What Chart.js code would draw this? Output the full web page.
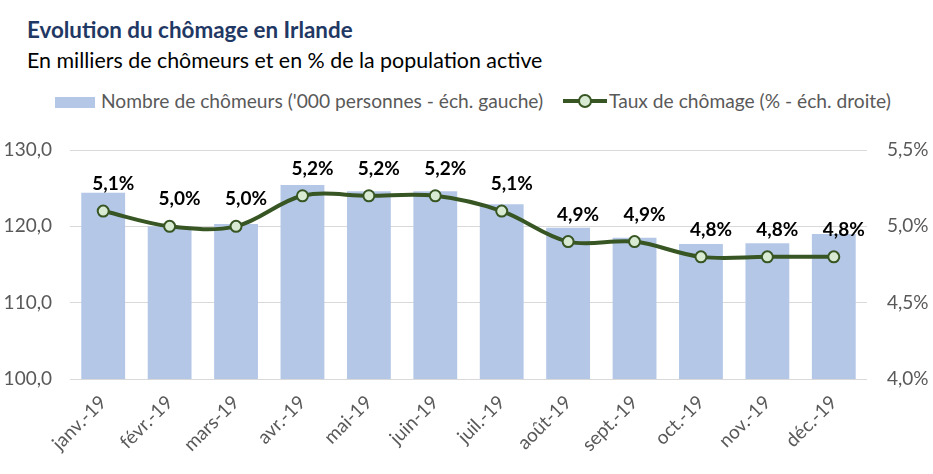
<!DOCTYPE html>
<html>
<head>
<meta charset="utf-8">
<script src="https://cdn.jsdelivr.net/npm/chart.js@4.4.1/dist/chart.umd.min.js"></script>
<style>
  html, body { margin:0; padding:0; background:#fff; }
  #wrap { position:relative; width:933px; height:474px; overflow:hidden; font-family: Lato, "Open Sans", sans-serif; }
  .t { position:absolute; white-space:nowrap; line-height:1.2; }
  #title { left:27px; top:17px; font-size:22.4px; font-weight:bold; color:#1F3864; }
  #subtitle { left:27px; top:48px; font-size:21.4px; color:#000; }
  .leg { font-size:19.2px; color:#595959; top:89px; }
  #sw1 { position:absolute; left:55px; top:97px; width:40px; height:11px; background:#B4C7E7; }
  #sw2 { position:absolute; left:563px; top:95px; width:44px; height:12px; }
  #sw2 .l { position:absolute; left:0; right:0; top:4px; height:4px; background:#375623; }
  #sw2 .c { position:absolute; left:15px; top:-1px; width:10px; height:10px; border:2px solid #375623; border-radius:50%; background:#D9EAD3; }
  canvas { position:absolute; left:0; top:0; }
</style>
</head>
<body>
<div id="wrap">
  <div class="t" id="title">Evolution du chômage en Irlande</div>
  <div class="t" id="subtitle">En milliers de chômeurs et en % de la population active</div>
  <div id="sw1"></div>
  <div class="t leg" style="left:101px">Nombre de chômeurs ('000 personnes - éch. gauche)</div>
  <div id="sw2"><span class="l"></span><span class="c"></span></div>
  <div class="t leg" style="left:609px">Taux de chômage (% - éch. droite)</div>
  <canvas id="c" width="933" height="474"></canvas>
</div>
<script>
const categories = ["janv.-19","févr.-19","mars-19","avr.-19","mai-19","juin-19","juil.-19","août-19","sept.-19","oct.-19","nov.-19","déc.-19"];
const chomeurs = [124.4, 120.0, 120.3, 125.4, 124.6, 124.6, 122.9, 119.8, 118.5, 117.7, 117.8, 119.0];
const taux = [5.1, 5.0, 5.0, 5.2, 5.2, 5.2, 5.1, 4.9, 4.9, 4.8, 4.8, 4.8];
const leftTicks = [100, 110, 120, 130];
const rightTicks = [4.0, 4.5, 5.0, 5.5];

const FONT = "Lato, 'Open Sans', sans-serif";
const fmt1 = v => v.toFixed(1).replace('.', ',');

const labelPlugin = {
  id: 'lineLabels',
  afterDatasetsDraw(chart) {
    const ctx = chart.ctx;
    const meta = chart.getDatasetMeta(1);
    ctx.save();
    ctx.font = "bold 19px " + FONT;
    ctx.fillStyle = '#000';
    ctx.textAlign = 'center';
    ctx.textBaseline = 'middle';
    meta.data.forEach((pt, i) => {
      ctx.fillText(fmt1(taux[i]) + '%', pt.x + 10, pt.y - 27);
    });
    ctx.restore();
  }
};

new Chart(document.getElementById('c'), {
  data: {
    labels: categories,
    datasets: [
      {
        type: 'bar',
        label: "Nombre de chômeurs ('000 personnes - éch. gauche)",
        data: chomeurs,
        backgroundColor: '#B4C7E7',
        borderWidth: 0,
        yAxisID: 'y',
        categoryPercentage: 1.0,
        barPercentage: 0.66,
        order: 2
      },
      {
        type: 'line',
        label: "Taux de chômage (% - éch. droite)",
        data: taux,
        borderColor: '#375623',
        borderWidth: 4,
        tension: 0.35,
        pointRadius: 5.5,
        pointBorderWidth: 2,
        pointBackgroundColor: '#D9EAD3',
        pointBorderColor: '#375623',
        yAxisID: 'y1',
        order: 1
      }
    ]
  },
  options: {
    responsive: false,
    animation: false,
    layout: { padding: { top: 150, left: 0, right: 0, bottom: 0 } },
    plugins: { legend: { display: false }, title: { display: false }, tooltip: { enabled: false } },
    scales: {
      x: {
        grid: { display: false },
        border: { display: false },
        ticks: {
          color: '#595959', font: { family: FONT, size: 19 },
          maxRotation: 45, minRotation: 45, padding: 4
        },
        afterFit(s) { s.height = 95; }
      },
      y: {
        position: 'left',
        min: 100, max: 130,
        afterBuildTicks(s) { s.ticks = leftTicks.map(v => ({ value: v })); },
        grid: { color: '#D9D9D9', lineWidth: 1, drawTicks: false },
        border: { display: false },
        ticks: { color: '#595959', font: { family: FONT, size: 19 }, padding: 18, callback: v => fmt1(v) },
        afterFit(s) { s.width = 70; }
      },
      y1: {
        position: 'right',
        min: 4.0, max: 5.5,
        afterBuildTicks(s) { s.ticks = rightTicks.map(v => ({ value: v })); },
        grid: { display: false, drawTicks: false },
        border: { display: false },
        ticks: { color: '#595959', font: { family: FONT, size: 19 }, padding: 20, callback: v => fmt1(v) + '%' },
        afterFit(s) { s.width = 66; }
      }
    }
  },
  plugins: [labelPlugin]
});
</script>
</body>
</html>
